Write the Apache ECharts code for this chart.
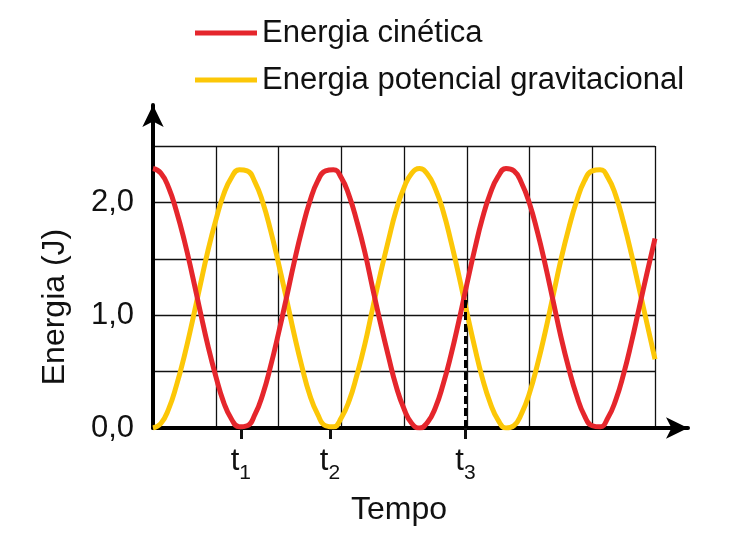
<!DOCTYPE html>
<html>
<head>
<meta charset="utf-8">
<script src="https://cdn.jsdelivr.net/npm/echarts@6/dist/echarts.min.js"></script>
<style>
html, body { margin: 0; padding: 0; background: #fff; }
#chart { width: 750px; height: 542px; }
</style>
</head>
<body>
<div id="chart"></div>
<script>
// tempo in grid columns (0..8), every eighth of a column
var tempo = [];
for (var k = 0; k <= 64; k++) tempo.push(k / 8);
var cinetica = [2.30, 2.26, 2.13, 1.92, 1.66, 1.36, 1.04, 0.73, 0.46, 0.23, 0.08, 0.01, 0.02, 0.12, 0.30, 0.55,
    0.84, 1.15, 1.47, 1.76, 2.01, 2.19, 2.28, 2.29, 2.22, 2.06, 1.83, 1.56, 1.24, 0.93, 0.64, 0.37,
    0.17, 0.04, 0.00, 0.05, 0.18, 0.39, 0.65, 0.95, 1.27, 1.58, 1.86, 2.08, 2.23, 2.30, 2.28, 2.17,
    1.99, 1.74, 1.45, 1.13, 0.81, 0.53, 0.29, 0.11, 0.02, 0.01, 0.09, 0.25, 0.48, 0.76, 1.07, 1.38, 1.68];
var potencial = [0.00, 0.04, 0.17, 0.38, 0.64, 0.94, 1.26, 1.57, 1.84, 2.07, 2.22, 2.29, 2.28, 2.18, 2.00, 1.75,
    1.46, 1.15, 0.83, 0.54, 0.29, 0.12, 0.02, 0.01, 0.09, 0.24, 0.47, 0.74, 1.06, 1.37, 1.66, 1.93,
    2.13, 2.26, 2.30, 2.25, 2.12, 1.92, 1.65, 1.35, 1.03, 0.72, 0.44, 0.22, 0.07, 0.00, 0.02, 0.13,
    0.31, 0.56, 0.85, 1.17, 1.49, 1.77, 2.01, 2.19, 2.28, 2.29, 2.22, 2.06, 1.82, 1.54, 1.23, 0.92, 0.61];
var tickTempo = [1.4, 2.82, 4.98];
var tickNomes = ['1', '2', '3'];
var t3Nivel = 1.15;

var corCinetica = '#e5262c';
var corPotencial = '#fcc707';
var fonte = '"Liberation Sans", Arial, sans-serif';

function pares(ys) {
    return tempo.map(function (t, i) { return [t, ys[i]]; });
}

var eixoSeta = {
    type: 'value', min: 0, max: 1,
    axisLine: { show: true, symbol: ['none', 'arrow'], symbolSize: [16, 22], lineStyle: { color: '#000', width: 4 } },
    axisTick: { show: false }, axisLabel: { show: false }, splitLine: { show: false }
};

var chart = echarts.init(document.getElementById('chart'));
option = {
    animation: false,
    textStyle: { fontFamily: fonte, color: '#111' },
    legend: {
        orient: 'vertical',
        left: 190,
        top: 11,
        itemWidth: 62,
        itemHeight: 5,
        itemGap: 13,
        icon: 'rect',
        textStyle: { fontSize: 31, color: '#111', lineHeight: 34, fontFamily: fonte },
        data: ['Energia cinética', 'Energia potencial gravitacional']
    },
    grid: [
        { left: 153, right: 95, top: 146, bottom: 114 },
        { left: 153, right: 62, top: 105, bottom: 114 },
        { left: 153, right: 95, top: 146, bottom: 114 }
    ],
    xAxis: [
        {
            type: 'value', gridIndex: 0, min: 0, max: 8, interval: 1,
            axisLine: { show: false }, axisTick: { show: false }, axisLabel: { show: false },
            splitLine: { show: true, lineStyle: { color: '#111', width: 1.3 } }
        },
        Object.assign({ gridIndex: 1 }, eixoSeta),
        {
            type: 'value', gridIndex: 2, min: 0, max: 8,
            name: 'Tempo', nameLocation: 'middle', nameGap: 66,
            nameTextStyle: { fontSize: 32, color: '#111', padding: [0, 10, 0, 0] },
            axisLine: { show: false },
            axisTick: { show: true, customValues: tickTempo, length: 11, lineStyle: { color: '#111', width: 3 } },
            axisLabel: {
                customValues: tickTempo,
                margin: 18,
                formatter: function (v) {
                    var i = tickTempo.indexOf(v);
                    return i < 0 ? '' : '{t|t}{s|' + tickNomes[i] + '}';
                },
                rich: {
                    t: { fontSize: 31, color: '#111', fontFamily: fonte },
                    s: { fontSize: 21, color: '#111', fontFamily: fonte, verticalAlign: 'bottom', padding: [0, 0, -7, 0] }
                }
            },
            splitLine: { show: false }
        }
    ],
    yAxis: [
        {
            type: 'value', gridIndex: 0, min: 0, max: 2.5, interval: 0.5,
            name: 'Energia (J)', nameLocation: 'middle', nameGap: 82,
            nameTextStyle: { fontSize: 32, color: '#111', padding: [0, 40, 0, 0] },
            axisLine: { show: false },
            axisTick: { show: false },
            axisLabel: {
                fontSize: 31, color: '#111', margin: 19,
                formatter: function (v) {
                    return v % 1 === 0 ? v.toFixed(1).replace('.', ',') : '';
                }
            },
            splitLine: { show: true, lineStyle: { color: '#111', width: 1.3 } }
        },
        Object.assign({ gridIndex: 1 }, eixoSeta),
        {
            type: 'value', gridIndex: 2, min: 0, max: 2.5, show: false
        }
    ],
    series: [
        {
            name: 'Energia cinética', type: 'line', xAxisIndex: 0, yAxisIndex: 0,
            data: pares(cinetica), smooth: true, showSymbol: false, symbol: 'none',
            itemStyle: { color: corCinetica },
            lineStyle: { color: corCinetica, width: 5 },
            z: 3,
            markLine: {
                silent: true, symbol: 'none',
                label: { show: false },
                lineStyle: { color: '#000', type: [8, 4], width: 3 },
                data: [[{ coord: [tickTempo[2], 0] }, { coord: [tickTempo[2], t3Nivel] }]]
            }
        },
        {
            name: 'Energia potencial gravitacional', type: 'line', xAxisIndex: 0, yAxisIndex: 0,
            data: pares(potencial), smooth: true, showSymbol: false, symbol: 'none',
            itemStyle: { color: corPotencial },
            lineStyle: { color: corPotencial, width: 5 },
            z: 2
        }
    ]
};
chart.setOption(option);
</script>
</body>
</html>
